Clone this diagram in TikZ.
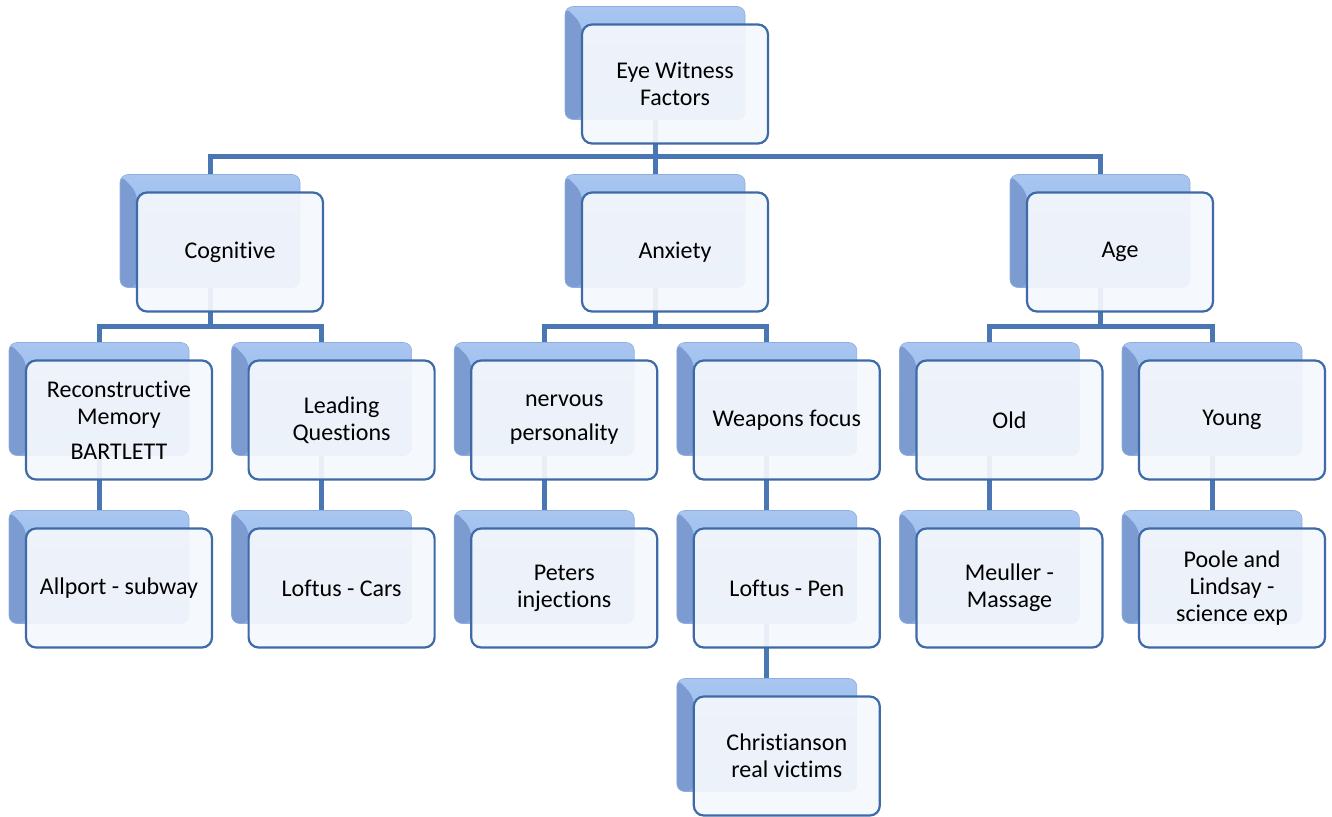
\documentclass[tikz,border=0pt]{standalone}
\usepackage{fontspec}
\setmainfont{Carlito}[Ligatures={NoCommon,NoContextual}]
\usetikzlibrary{calc}
\definecolor{shtop}{HTML}{A9C6F1}
\definecolor{shbot}{HTML}{8AAEE3}
\definecolor{shedge}{HTML}{8FAEDF}
\definecolor{shbevel}{HTML}{7C9BD0}
\definecolor{conncol}{HTML}{4A77B4}
\definecolor{fbord}{HTML}{3E6BA8}
\definecolor{ffill}{HTML}{F4F7FC}
\begin{document}
\begin{tikzpicture}[x=1pt,y=-1pt,
  shadowbox/.style={rectangle, rounded corners=8pt, minimum width=180pt, minimum height=113pt, inner sep=0pt,
    top color=shtop, bottom color=shbot, draw=shedge, line width=0.6pt,
    path picture={\fill[shbevel] (path picture bounding box.north west) -- ++(17,18) |- (path picture bounding box.south west) -- cycle;}},
  frontbox/.style={rectangle, rounded corners=10pt, minimum width=186pt, minimum height=119pt, inner sep=2pt,
    draw=fbord, line width=2.2pt, fill=ffill, fill opacity=0.93, text opacity=1, align=center,
    font=\fontsize{24}{27}\selectfont, text=black},
  conn/.style={draw=conncol, line width=5pt, line join=miter}]
\useasboundingbox (0,0) rectangle (1332,816);
% shadow (main) boxes
\node[shadowbox] (s0) at (655,63) {};
\node[shadowbox] (sA) at (210,231) {};
\node[shadowbox] (sB) at (655,231) {};
\node[shadowbox] (sC) at (1100,231) {};
\node[shadowbox] (sA1) at (99,399) {};
\node[shadowbox] (sA2) at (321.6,399) {};
\node[shadowbox] (sB1) at (544.2,399) {};
\node[shadowbox] (sB2) at (766.8,399) {};
\node[shadowbox] (sC1) at (989.4,399) {};
\node[shadowbox] (sC2) at (1212,399) {};
\node[shadowbox] (sA1a) at (99,567) {};
\node[shadowbox] (sA2a) at (321.6,567) {};
\node[shadowbox] (sB1a) at (544.2,567) {};
\node[shadowbox] (sB2a) at (766.8,567) {};
\node[shadowbox] (sC1a) at (989.4,567) {};
\node[shadowbox] (sC2a) at (1212,567) {};
\node[shadowbox] (sB2b) at (766.8,735) {};
% connectors
\path (s0.south) ++(0,37) coordinate (b0);
\draw[conn] (s0.south) -- (b0);
\draw[conn] (sA.north) |- (b0) -| (sC.north);
\draw[conn] (b0) -- (sB.north);
\path (sA.south) ++(0,38.5) coordinate (bA);
\draw[conn] (sA.south) -- (bA);
\draw[conn] (sA1.north) |- (bA) -| (sA2.north);
\path (sB.south) ++(0,38.5) coordinate (bB);
\draw[conn] (sB.south) -- (bB);
\draw[conn] (sB1.north) |- (bB) -| (sB2.north);
\path (sC.south) ++(0,38.5) coordinate (bC);
\draw[conn] (sC.south) -- (bC);
\draw[conn] (sC1.north) |- (bC) -| (sC2.north);
\draw[conn] (sA1.south) -- (sA1a.north);
\draw[conn] (sA2.south) -- (sA2a.north);
\draw[conn] (sB1.south) -- (sB1a.north);
\draw[conn] (sB2.south) -- (sB2a.north);
\draw[conn] (sC1.south) -- (sC1a.north);
\draw[conn] (sC2.south) -- (sC2a.north);
\draw[conn] (sB2a.south) -- (sB2b.north);
% front (text) boxes
\node[frontbox] (f0) at ($(s0)+(20,21)$) {Eye Witness\\Factors};
\node[frontbox] (fA) at ($(sA)+(20,21)$) {Cognitive};
\node[frontbox] (fB) at ($(sB)+(20,21)$) {Anxiety};
\node[frontbox] (fC) at ($(sC)+(20,21)$) {Age};
\node[frontbox] (fA1) at ($(sA1)+(20,21)$) {Reconstructive\\Memory\\[8pt]BARTLETT};
\node[frontbox] (fA2) at ($(sA2)+(20,21)$) {Leading\\Questions};
\node[frontbox] (fB1) at ($(sB1)+(20,21)$) {nervous\\[7pt]personality};
\node[frontbox] (fB2) at ($(sB2)+(20,21)$) {Weapons focus};
\node[frontbox] (fC1) at ($(sC1)+(20,21)$) {Old};
\node[frontbox] (fC2) at ($(sC2)+(20,21)$) {Young};
\node[frontbox] (fA1a) at ($(sA1a)+(20,21)$) {Allport - subway};
\node[frontbox] (fA2a) at ($(sA2a)+(20,21)$) {Loftus - Cars};
\node[frontbox] (fB1a) at ($(sB1a)+(20,21)$) {Peters\\injections};
\node[frontbox] (fB2a) at ($(sB2a)+(20,21)$) {Loftus - Pen};
\node[frontbox] (fC1a) at ($(sC1a)+(20,21)$) {Meuller -\\Massage};
\node[frontbox] (fC2a) at ($(sC2a)+(20,21)$) {Poole and\\Lindsay -\\science exp};
\node[frontbox] (fB2b) at ($(sB2b)+(20,21)$) {Christianson\\real victims};
\end{tikzpicture}
\end{document}
